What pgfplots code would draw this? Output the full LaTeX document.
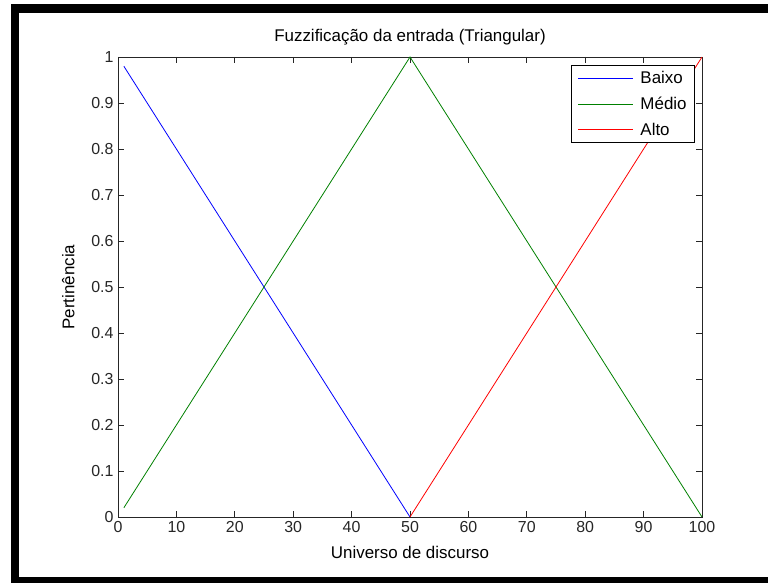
\documentclass[border=0pt]{standalone}
\usepackage{pgfplots}
\pgfplotsset{compat=1.18}
\usepackage{fontspec}
\setmainfont{Liberation Sans}
\definecolor{mgreen}{rgb}{0,0.5,0}
\definecolor{mblue}{rgb}{0,0,1}
\definecolor{mred}{rgb}{1,0,0}
\begin{document}
\begin{tikzpicture}
\path[use as bounding box] (0bp,0bp) rectangle (768bp,583bp);
\fill[black] (11bp,570bp) rectangle (768bp,579bp);
\fill[black] (11bp,0bp) rectangle (19bp,579bp);
\fill[black] (11bp,0bp) rectangle (768bp,6bp);
\begin{axis}[
  at={(118bp,66bp)}, anchor=south west,
  width=584bp, height=460bp, scale only axis,
  xmin=0, xmax=100, ymin=0, ymax=1,
  xtick={0,10,...,100},
  ytick={0,0.1,...,1},
  yticklabels={0,0.1,0.2,0.3,0.4,0.5,0.6,0.7,0.8,0.9,1},
  tick align=inside,
  major tick length=6bp,
  axis line style={line width=0.8bp, black!85},
  every tick/.style={line width=0.8bp, black!85},
  /pgf/number format/assume math mode=true,
  tick label style={font=\fontsize{16}{16}\selectfont, text=black!85},
  xticklabel style={yshift=-1bp},
  yticklabel style={xshift=-1bp},
  title={Fuzzificação da entrada (Triangular)},
  title style={font=\fontsize{17}{17}\selectfont, yshift=2bp},
  xlabel={Universo de discurso},
  ylabel={Pertinência},
  label style={font=\fontsize{17}{17}\selectfont},
  xlabel style={yshift=-7bp},
  ylabel style={yshift=10bp},
  legend style={at={(0.988,0.983)}, anchor=north east, draw=black, line width=0.8bp,
    font=\fontsize{17}{17}\selectfont, row sep=8bp, column sep=5bp,
    inner xsep=6bp, inner ysep=4bp,
    cells={anchor=west}},
  legend image code/.code={\draw[#1] (0bp,0bp) -- (55bp,0bp);},
]
\addplot[draw=mblue, line width=0.8bp] coordinates {(1,0.98) (50,0)};
\addlegendentry{Baixo}
\addplot[draw=mgreen, line width=0.8bp] coordinates {(1,0.02) (50,1) (100,0)};
\addlegendentry{Médio}
\addplot[draw=mred, line width=0.8bp] coordinates {(50,0) (100,1)};
\addlegendentry{Alto}
\end{axis}
\end{tikzpicture}
\end{document}
